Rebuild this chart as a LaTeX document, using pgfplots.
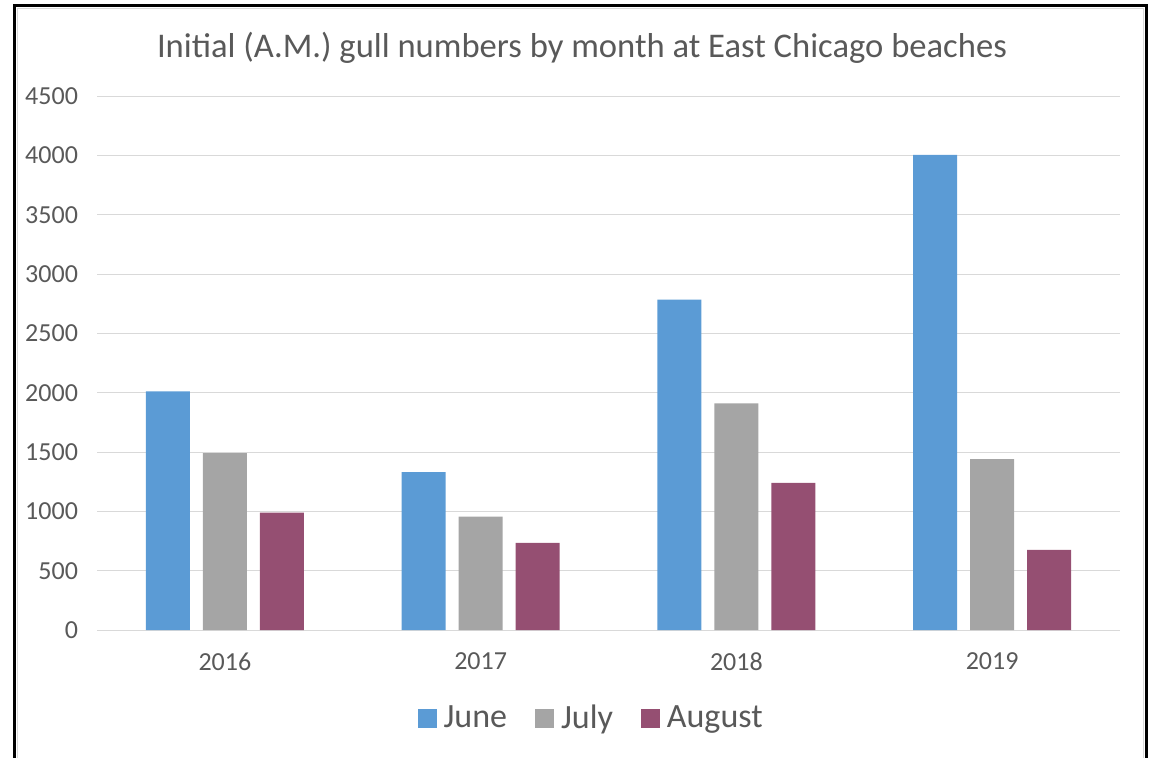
\documentclass[border=0pt]{standalone}
\usepackage{fontspec}
\setmainfont{Carlito}
\usepackage{pgfplots}
\pgfplotsset{compat=1.18}
\definecolor{june}{HTML}{5B9BD5}
\definecolor{july}{HTML}{A5A5A5}
\definecolor{august}{HTML}{954F72}
\definecolor{txt}{HTML}{595959}
\definecolor{gridc}{HTML}{D9D9D9}
\begin{document}
\begin{tikzpicture}
\path[use as bounding box] (0,0) rectangle (575.5pt,378.5pt);
\begin{scope}
\clip (0,0) rectangle (575.5pt,378.5pt);
\draw[line width=0.6pt, gridc] (8.6pt,-10pt) rectangle (571.8pt,374.1pt);
\draw[line width=1.5pt] (7.25pt,-10pt) rectangle (573.25pt,375.5pt);
\end{scope}
\node[anchor=base, text=txt, font=\fontsize{17.3}{20}\selectfont] at (291pt,349.5pt)
  {Initial (A.M.) gull numbers by month at East Chicago beaches};
\begin{axis}[
    at={(48.5pt,63.5pt)}, anchor=south west,
    scale only axis,
    width=511.5pt, height=267pt,
    ybar=6.5pt, bar width=22pt,
    xmin=-0.5, xmax=3.5,
    ymin=0, ymax=4500,
    xtick={0,1,2,3},
    xticklabels={2016,2017,2018,2019},
    ytick={0,500,...,4500},
    ymajorgrids, grid style={gridc, line width=0.5pt},
    axis line style={draw=none},
    major tick length=0pt,
    tick label style={text=txt, font=\fontsize{13}{15}\selectfont},
    /pgf/number format/assume math mode=true,
    /pgf/number format/1000 sep={},
    yticklabel style={xshift=-6pt},
    xticklabel style={yshift=-8pt},
    legend style={at={(0.484,-0.165)}, anchor=center, draw=none,
        font=\fontsize{17}{19}\selectfont, text=txt, legend columns=-1,
        /tikz/every even column/.append style={column sep=12pt}},
    legend image code/.code={\fill[#1] (-1.5pt,-4.75pt) rectangle (8pt,4.75pt);
        \path (9.5pt,0pt);},
]
\addplot[fill=june, draw=none] coordinates {(0,2010) (1,1330) (2,2785) (3,4005)};
\addplot[fill=july, draw=none] coordinates {(0,1490) (1,955) (2,1910) (3,1440)};
\addplot[fill=august, draw=none] coordinates {(0,990) (1,735) (2,1240) (3,675)};
\legend{June, July, August}
\end{axis}
\end{tikzpicture}
\end{document}
